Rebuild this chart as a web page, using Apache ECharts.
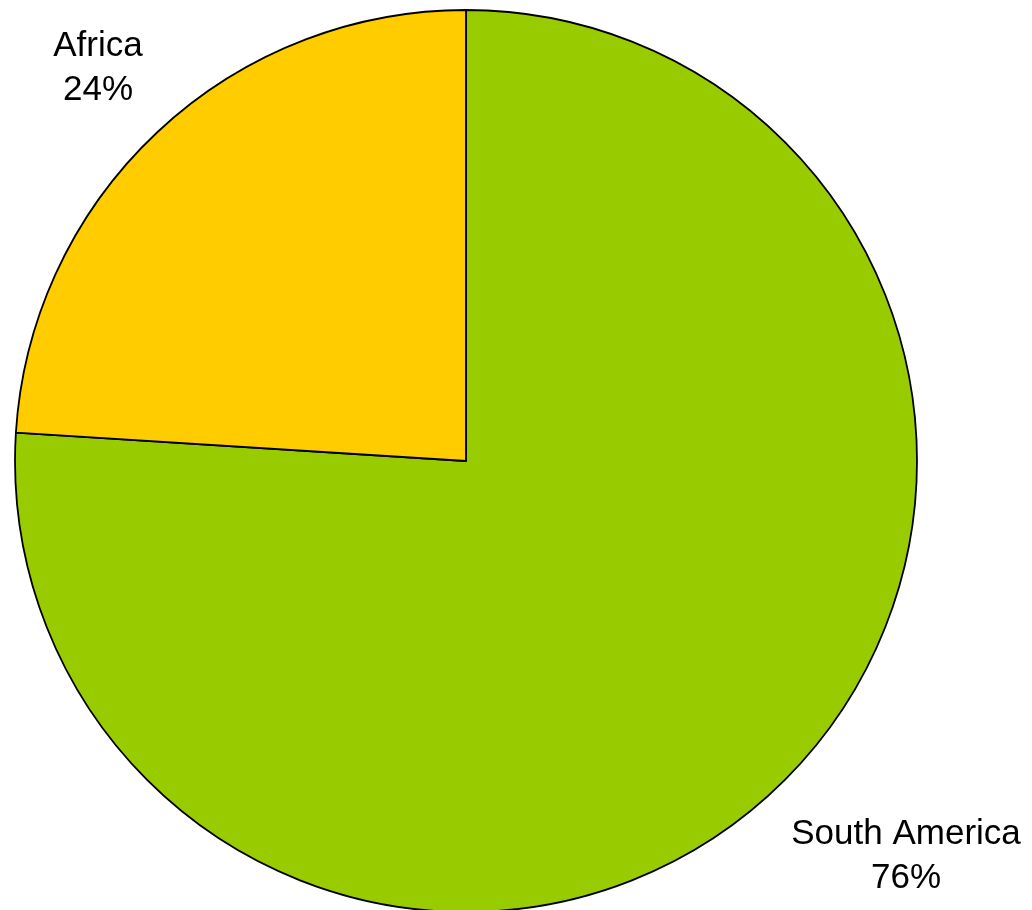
<!DOCTYPE html>
<html>
<head>
<meta charset="utf-8">
<script src="https://cdn.jsdelivr.net/npm/echarts@6/dist/echarts.min.js"></script>
<style>
  html, body { margin: 0; padding: 0; background: #fff; }
  #main { width: 1032px; height: 910px; }
</style>
</head>
<body>
<div id="main"></div>
<script>
// 饼图数据
var regions = ['South America', 'Africa'];
var shares = [76, 24];
var sliceColors = ['#99CC00', '#FFCC00'];

// 标签放置位置（像素）
var labelSpots = [[906, 856], [98, 68]];

var myChart = echarts.init(document.getElementById('main'));

var pieData = regions.map(function (name, i) {
  return { name: name, value: shares[i], itemStyle: { color: sliceColors[i] } };
});

var option = {
  animation: false,
  series: [{
    type: 'pie',
    center: [466, 461],
    radius: 451,
    startAngle: 90,
    clockwise: true,
    percentPrecision: 0,
    itemStyle: {
      borderColor: '#000',
      borderWidth: 1.8
    },
    label: {
      show: true,
      position: 'outside',
      formatter: '{b}\n{d}%',
      fontFamily: 'Liberation Sans, Arial, sans-serif',
      fontSize: 35,
      lineHeight: 44,
      color: '#000',
      align: 'center',
      overflow: 'none'
    },
    labelLine: { show: false },
    labelLayout: function (params) {
      var p = labelSpots[params.dataIndex];
      return { x: p[0], y: p[1], align: 'center', verticalAlign: 'middle', width: 320 };
    },
    emphasis: { disabled: true },
    data: pieData
  }]
};

myChart.setOption(option);
</script>
</body>
</html>
